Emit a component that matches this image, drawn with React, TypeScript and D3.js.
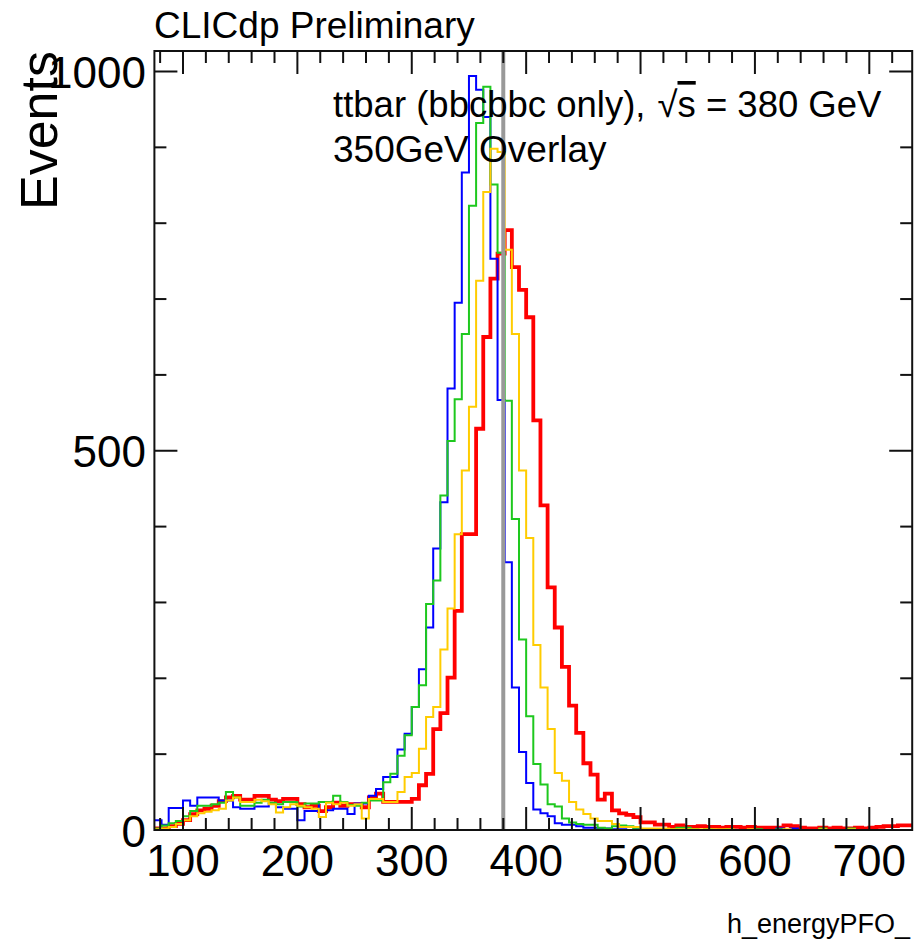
import React from 'react';
import * as d3 from 'd3';

// Histogram binning: 106 bins of 6.25 GeV from 75 to 737.5
const binLow = 75;
const binWidth = 6.25;
const xDomain = [75, 737.5];
const xTickLabels = [100, 200, 300, 400, 500, 600, 700];
const yTickLabels = [0, 500, 1000];
const markerEnergy = 380;

const seriesBlue = [
  13, 7, 29, 29, 39, 32, 43, 43, 43, 39, 39, 30, 28, 28, 31, 31, 35, 30, 28, 28,
  13, 25, 25, 37, 26, 28, 28, 21, 35, 35, 45, 54, 70, 70, 106, 127, 162, 212, 267, 371,
  432, 582, 695, 867, 994, 976, 940, 753, 567, 353, 188, 103, 62, 27, 22, 18, 9, 7, 7, 5,
  3, 3, 2, 2, 1, 1, 0, 1, 0, 0, 0, 0, 0, 0, 0, 0, 0, 0, 0, 0,
  0, 0, 0, 0, 0, 0, 0, 2, 0, 2, 0, 0, 0, 0, 0, 0, 0, 0, 0, 0,
  0, 0, 0, 0, 0, 0,
];

const seriesGreen = [
  2, 6, 9, 12, 18, 25, 32, 32, 34, 36, 50, 43, 32, 32, 36, 40, 36, 34, 37, 37,
  31, 35, 35, 37, 37, 45, 37, 33, 32, 36, 39, 39, 63, 74, 98, 125, 162, 191, 298, 329,
  441, 513, 568, 654, 823, 932, 980, 851, 761, 566, 410, 251, 150, 87, 60, 34, 31, 15, 10, 8,
  7, 7, 3, 2, 5, 6, 5, 1, 1, 1, 1, 1, 1, 3, 3, 1, 0, 1, 0, 0,
  1, 0, 0, 0, 1, 0, 0, 1, 0, 0, 0, 0, 0, 2, 0, 0, 0, 2, 0, 0,
  0, 0, 0, 0, 0, 0,
];

const seriesYellow = [
  1, 2, 4, 8, 13, 18, 22, 24, 26, 28, 39, 43, 37, 37, 40, 38, 34, 23, 30, 34,
  32, 30, 28, 17, 36, 34, 36, 32, 34, 15, 41, 41, 37, 37, 50, 70, 75, 107, 149, 162,
  238, 292, 390, 474, 558, 724, 841, 898, 894, 765, 654, 474, 385, 244, 188, 133, 75, 65, 37, 27,
  21, 15, 12, 12, 8, 4, 4, 4, 2, 2, 2, 2, 1, 1, 1, 1, 1, 1, 1, 1,
  1, 0, 0, 1, 0, 0, 0, 0, 1, 0, 0, 0, 0, 1, 0, 0, 0, 1, 0, 0,
  0, 0, 0, 0, 0, 0,
];

const seriesRed = [
  2, 2, 5, 8, 13, 21, 26, 28, 32, 38, 43, 45, 40, 40, 45, 45, 40, 38, 41, 41,
  34, 30, 32, 25, 30, 36, 32, 34, 34, 30, 43, 48, 37, 37, 37, 37, 41, 59, 74, 133,
  154, 201, 289, 390, 390, 529, 650, 727, 760, 791, 742, 712, 676, 540, 428, 320, 267, 215, 164, 128,
  88, 73, 40, 48, 26, 22, 20, 17, 10, 10, 7, 7, 4, 6, 4, 4, 5, 4, 4, 3,
  4, 4, 3, 4, 3, 3, 3, 3, 6, 5, 3, 2, 2, 3, 2, 3, 2, 2, 3, 2,
  3, 4, 5, 5, 6, 6,
];

const FONT = '"Liberation Sans", Arial, Helvetica, sans-serif';

export default function App() {
  const W = 920;
  const H = 940;
  const frameTop = 51;
  const frameBottom = 830;
  const x = d3.scaleLinear().domain(xDomain).range([154.4, 912.2]);
  const y = d3.scaleLinear().domain([0, 1000]).range([frameBottom, 71.5]);
  const frameLeft = x(xDomain[0]);
  const frameRight = x(xDomain[1]);

  const stepPath = (vals: number[]) => {
    const pts: [number, number][] = vals.map((v, i) => [binLow + i * binWidth, v]);
    pts.push([binLow + vals.length * binWidth, vals[vals.length - 1]]);
    const line = d3
      .line<[number, number]>()
      .x((d) => x(d[0]))
      .y((d) => y(d[1]))
      .curve(d3.curveStepAfter);
    return line(pts) || '';
  };

  const xMinor = d3.range(80, 737, 20);
  const yMinor = d3.range(0, 1001, 100);
  const tickStroke = '#111';

  const series = [
    { vals: seriesRed, color: '#ff0000', w: 3.8 },
    { vals: seriesBlue, color: '#0000ff', w: 2 },
    { vals: seriesGreen, color: '#1ec81e', w: 2 },
    { vals: seriesYellow, color: '#ffcc00', w: 2 },
  ];

  return (
    <svg
      width={W}
      height={H}
      style={{ position: 'absolute', left: 0, top: 0, background: '#fff' }}
      fontFamily={FONT}
    >
      <rect x={0} y={0} width={W} height={H} fill="#fff" />
      <g>
        {series.map((s, i) => (
          <path key={i} d={stepPath(s.vals)} fill="none" stroke={s.color} strokeWidth={s.w} strokeLinejoin="miter" />
        ))}
      </g>
      {/* marker line */}
      <line
        x1={x(markerEnergy)}
        x2={x(markerEnergy)}
        y1={frameBottom}
        y2={frameTop}
        stroke="#999999"
        strokeWidth={4}
      />
      {/* frame */}
      <rect
        x={frameLeft}
        y={frameTop}
        width={frameRight - frameLeft}
        height={frameBottom - frameTop}
        fill="none"
        stroke={tickStroke}
        strokeWidth={2}
      />
      {/* x ticks */}
      {xMinor.map((v) => {
        const major = v % 100 === 0;
        const len = major ? 23 : 12;
        return (
          <g key={'xt' + v}>
            <line x1={x(v)} x2={x(v)} y1={frameBottom} y2={frameBottom - len} stroke={tickStroke} strokeWidth={2} />
            <line x1={x(v)} x2={x(v)} y1={frameTop} y2={frameTop + len} stroke={tickStroke} strokeWidth={2} />
          </g>
        );
      })}
      {/* y ticks */}
      {yMinor.map((v) => {
        const major = v % 500 === 0;
        const len = major ? 23 : 12;
        return (
          <g key={'yt' + v}>
            <line x1={frameLeft} x2={frameLeft + len} y1={y(v)} y2={y(v)} stroke={tickStroke} strokeWidth={2} />
            <line x1={frameRight} x2={frameRight - len} y1={y(v)} y2={y(v)} stroke={tickStroke} strokeWidth={2} />
          </g>
        );
      })}
      {/* x tick labels */}
      {xTickLabels.map((v) => (
        <text key={'xl' + v} x={x(v)} y={876} textAnchor="middle" fontSize={44} fill="#000">
          {v}
        </text>
      ))}
      {/* y tick labels */}
      {yTickLabels.map((v) => (
        <text key={'yl' + v} x={146} y={y(v) + 16.5} textAnchor="end" fontSize={44} fill="#000">
          {v}
        </text>
      ))}
      {/* y axis title */}
      <text transform={`translate(57, ${frameTop}) rotate(-90)`} textAnchor="end" fontSize={52} fill="#000">
        Events
      </text>
      {/* header */}
      <text x={154} y={38} fontSize={37} fill="#000">
        CLICdp Preliminary
      </text>
      {/* annotations */}
      <text x={333} y={117} fontSize={36.5} fill="#000">
        <tspan>ttbar (bbcbbc only),</tspan>
        <tspan dx={12}>√</tspan>
        <tspan style={{ textDecoration: 'overline' }}>s</tspan>
        <tspan> = 380 GeV</tspan>
      </text>
      <text x={333} y={162} fontSize={37} fill="#000">
        350GeV Overlay
      </text>
      {/* histogram name */}
      <text x={910} y={933} textAnchor="end" fontSize={27} fill="#000">
        h_energyPFO_
      </text>
    </svg>
  );
}
